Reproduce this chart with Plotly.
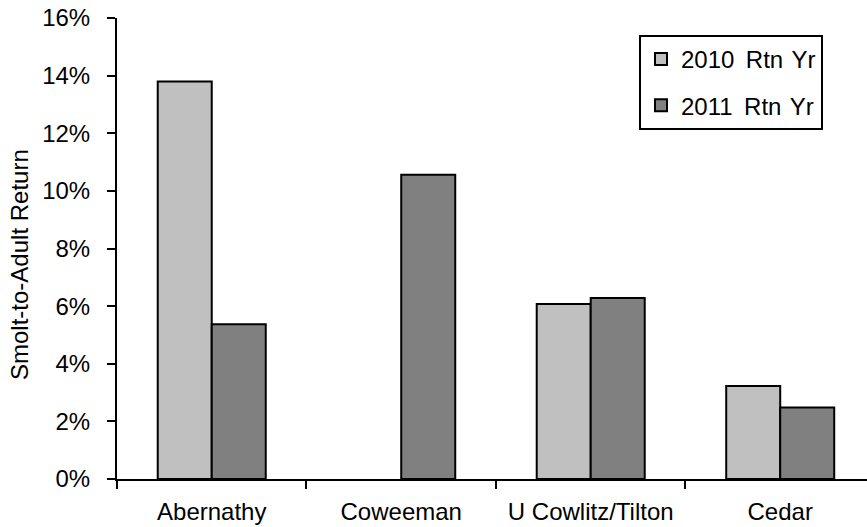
import plotly.graph_objects as go

# Smolt-to-adult return rates by population and return year
categories = ["Abernathy", "Coweeman", "U Cowlitz/Tilton", "Cedar"]
rtn_2010 = [13.8, None, 6.07, 3.23]
rtn_2011 = [5.37, 10.56, 6.28, 2.48]
series_names = ["2010\u2009 Rtn\u200a Yr", "2011\u2009 Rtn\u200a Yr"]
y_ticks = [0, 2, 4, 6, 8, 10, 12, 14, 16]

FONT = "Arial, Liberation Sans, sans-serif"

fig = go.Figure()
fig.add_trace(go.Bar(
    x=categories, y=rtn_2010, name=series_names[0], legendgroup="a",
    marker=dict(color="#C0C0C0", line=dict(color="black", width=2)),
))
fig.add_trace(go.Bar(
    x=categories, y=rtn_2011, name=series_names[1], legendgroup="b",
    marker=dict(color="#808080", line=dict(color="black", width=2)),
))

W, H = 867, 527
ml, mr, mt, mb = 117, 0, 18, 48
plot_w = W - ml - mr
plot_h = H - mt - mb

fig.update_layout(
    width=W, height=H,
    margin=dict(l=ml, r=mr, t=mt, b=mb, pad=0),
    paper_bgcolor="white", plot_bgcolor="white",
    font=dict(family=FONT, size=24, color="black"),
    barmode="group", bargap=0.43, bargroupgap=0,
    showlegend=True,
    legend=dict(
        x=(639 - ml) / plot_w, y=(H - mb - 35) / plot_h,
        xanchor="left", yanchor="top",
        bordercolor="black", borderwidth=2, bgcolor="white",
        font=dict(family=FONT, size=24, color="black"),
        tracegroupgap=12, traceorder="grouped",
    ),
    xaxis=dict(
        range=[-0.5, 3.458],
        showline=True, linecolor="black", linewidth=2,
        ticks="outside", ticklen=8, tickwidth=2, tickcolor="black",
        tickson="boundaries", ticklabelstandoff=10,
        showgrid=False, zeroline=False,
        tickfont=dict(family=FONT, size=24, color="black"),
    ),
    yaxis=dict(
        range=[0, 16], tickvals=y_ticks,
        ticktext=[f"{v}%" for v in y_ticks],
        showline=True, linecolor="black", linewidth=2,
        ticks="outside", ticklen=8, tickwidth=2, tickcolor="black",
        ticklabelstandoff=12,
        showgrid=False, zeroline=False,
        tickfont=dict(family=FONT, size=24, color="black"),
    ),
    annotations=[dict(
        text="Smolt-to-Adult Return", textangle=-90,
        xref="paper", yref="paper",
        x=(19 - ml) / plot_w, y=(H - mb - 265) / plot_h,
        xanchor="center", yanchor="middle", showarrow=False,
        font=dict(family=FONT, size=24, color="black"),
    )],
)

fig.write_html("out.html")
